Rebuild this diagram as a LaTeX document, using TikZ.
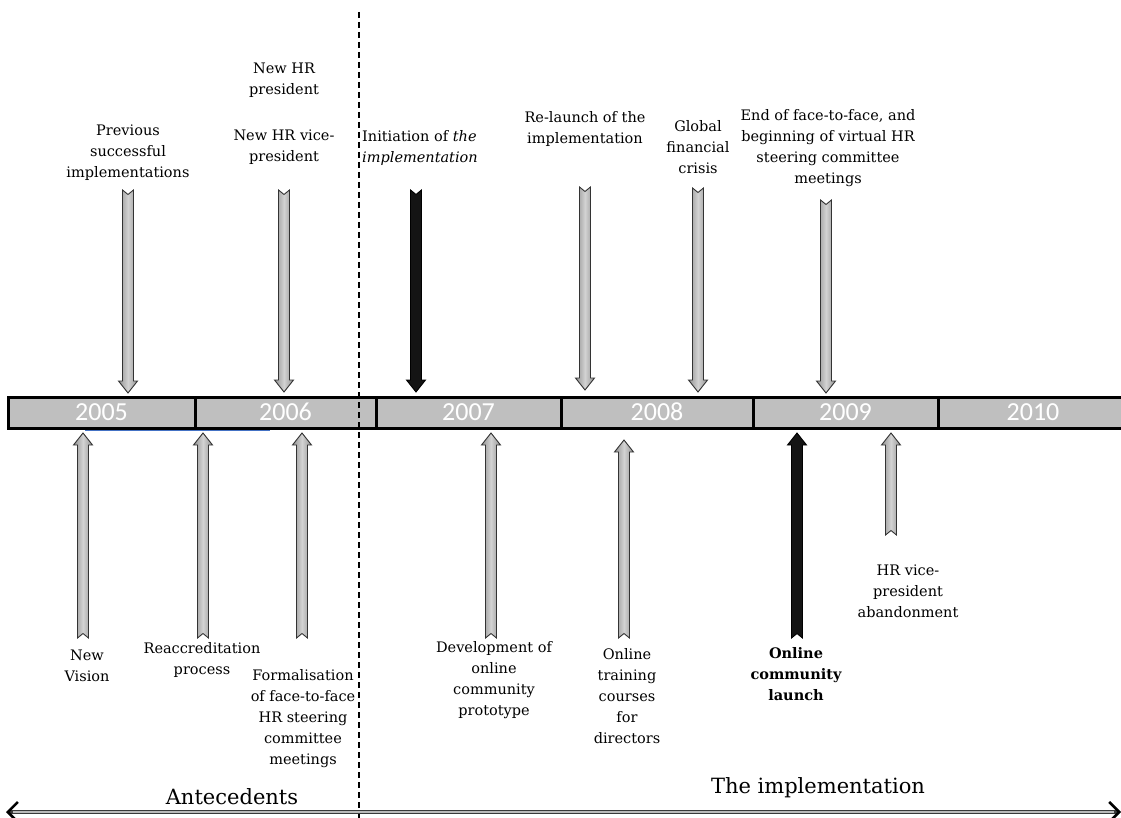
\documentclass[tikz,border=0pt]{standalone}
\usepackage{fontspec}
\setmainfont{DejaVu Serif}
\newfontfamily\yearfont{Carlito}
\usetikzlibrary{arrows.meta}
\definecolor{uline}{RGB}{68,114,196}
\newcommand{\downblock}[4]{%
  \path[#1] ({#2-5.5},#3) -- (#2,{#3+4.5}) -- ({#2+5.5},#3) -- ({#2+5.5},{#4-12}) -- ({#2+9.5},{#4-12}) -- (#2,#4) -- ({#2-9.5},{#4-12}) -- ({#2-5.5},{#4-12}) -- cycle;}
\newcommand{\upblock}[4]{%
  \path[#1] (#2,#3) -- ({#2+9.5},{#3+12}) -- ({#2+5.5},{#3+12}) -- ({#2+5.5},#4) -- (#2,{#4-4.5}) -- ({#2-5.5},#4) -- ({#2-5.5},{#3+12}) -- ({#2-9.5},{#3+12}) -- cycle;}
\begin{document}
\begin{tikzpicture}[x=1pt,y=-1pt,
  lbl/.style={font=\fontsize{14.5}{21}\selectfont, align=center, inner sep=0pt, anchor=north},
  seg/.style={draw=black, line width=3pt, fill=gray!50, minimum height=31pt, inner sep=0pt, text=white,
    font=\yearfont\fontsize{26}{26}\selectfont, text height=16pt, text depth=0pt},
  gblock/.style={draw=gray!40!black, line width=0.9pt, left color=gray!85, right color=gray!85, middle color=gray!35},
  kblock/.style={draw=black, line width=0.9pt, fill=black!92},
  phase/.style={font=\fontsize{21}{24}\selectfont, inner sep=0pt},
  divider/.style={line width=1.3pt, dash pattern=on 6pt off 4pt},
  spanline/.style={line width=4pt, draw=gray!45!black,
    {Straight Barb[color=black,length=10pt,width=20pt,line width=2.6pt]}-{Straight Barb[color=black,length=10pt,width=20pt,line width=2.6pt]}},
  spancore/.style={line width=1.6pt, draw=gray!55, shorten <=7pt, shorten >=7pt}
]
\useasboundingbox (0,0) rectangle (1121,818);
\fill[white] (0,0) rectangle (1121,818);

% timeline bar
\node[seg, minimum width=187pt] (s2005) at (101.5,412.5) {2005};
\node[seg, minimum width=181pt] (s2006) at (285.5,412.5) {2006};
\node[seg, minimum width=185pt] (s2007) at (468.5,412.5) {2007};
\node[seg, minimum width=192pt] (s2008) at (657,412.5) {2008};
\node[seg, minimum width=185pt] (s2009) at (845.5,412.5) {2009};
\node[seg, minimum width=190pt] (s2010) at (1033,412.5) {2010};

\coordinate (u1) at (85,430.5);
\coordinate (u2) at (270,430.5);
\draw[uline, line width=1.2pt] (u1) -- (u2);

% divider
\coordinate (dTop) at (359,12);
\coordinate (dBot) at (359,818);
\draw[divider] (dTop) -- (dBot);

% top arrows
\downblock{gblock}{128}{190}{393}
\downblock{gblock}{284}{190}{392}
\downblock{kblock}{416}{190}{392}
\downblock{gblock}{585}{187}{390}
\downblock{gblock}{698}{188}{392}
\downblock{gblock}{826}{200}{393}

% bottom arrows
\upblock{gblock}{83}{433}{638}
\upblock{gblock}{203}{433}{638}
\upblock{gblock}{302}{433}{638}
\upblock{gblock}{491}{433}{638}
\upblock{gblock}{624}{440}{638}
\upblock{kblock}{797}{433}{638}
\upblock{gblock}{891}{433}{535}

% top labels
\node[lbl] (prev) at (128,125) {Previous\\successful\\implementations};
\node[lbl] (hrp) at (284,63) {New HR\\president};
\node[lbl] (hrvp) at (284,130) {New HR vice-\\president};
\node[lbl, anchor=north west, align=left] (init) at (362,130) {Initiation of \textit{the}\\\textit{implementation}};
\node[lbl] (relaunch) at (585,111) {Re-launch of the\\implementation};
\node[lbl] (crisis) at (698,120) {Global\\financial\\crisis};
\node[lbl] (endf2f) at (828,109) {End of face-to-face, and\\beginning of virtual HR\\steering committee\\meetings};

% bottom labels
\node[lbl] (vision) at (87,650) {New\\Vision};
\node[lbl] (reacc) at (202,642) {Reaccreditation\\process};
\node[lbl] (formal) at (303,669) {Formalisation\\of face-to-face\\HR steering\\committee\\meetings};
\node[lbl] (devel) at (494,641) {Development of\\online\\community\\prototype};
\node[lbl] (training) at (627,648) {Online\\training\\courses\\for\\directors};
\node[lbl, font=\bfseries\fontsize{14.5}{21}\selectfont] (launch) at (796,647) {Online\\community\\launch};
\node[lbl] (abandon) at (908,565) {HR vice-\\president\\abandonment};

% phases
\node[phase] (ante) at (232,797) {Antecedents};
\node[phase] (impl) at (818,788) {The implementation};
\coordinate (aL) at (6,812);
\coordinate (aR) at (1121,812);
\draw[spanline] (aL) -- (aR);
\draw[spancore] (aL) -- (aR);
\end{tikzpicture}
\end{document}
